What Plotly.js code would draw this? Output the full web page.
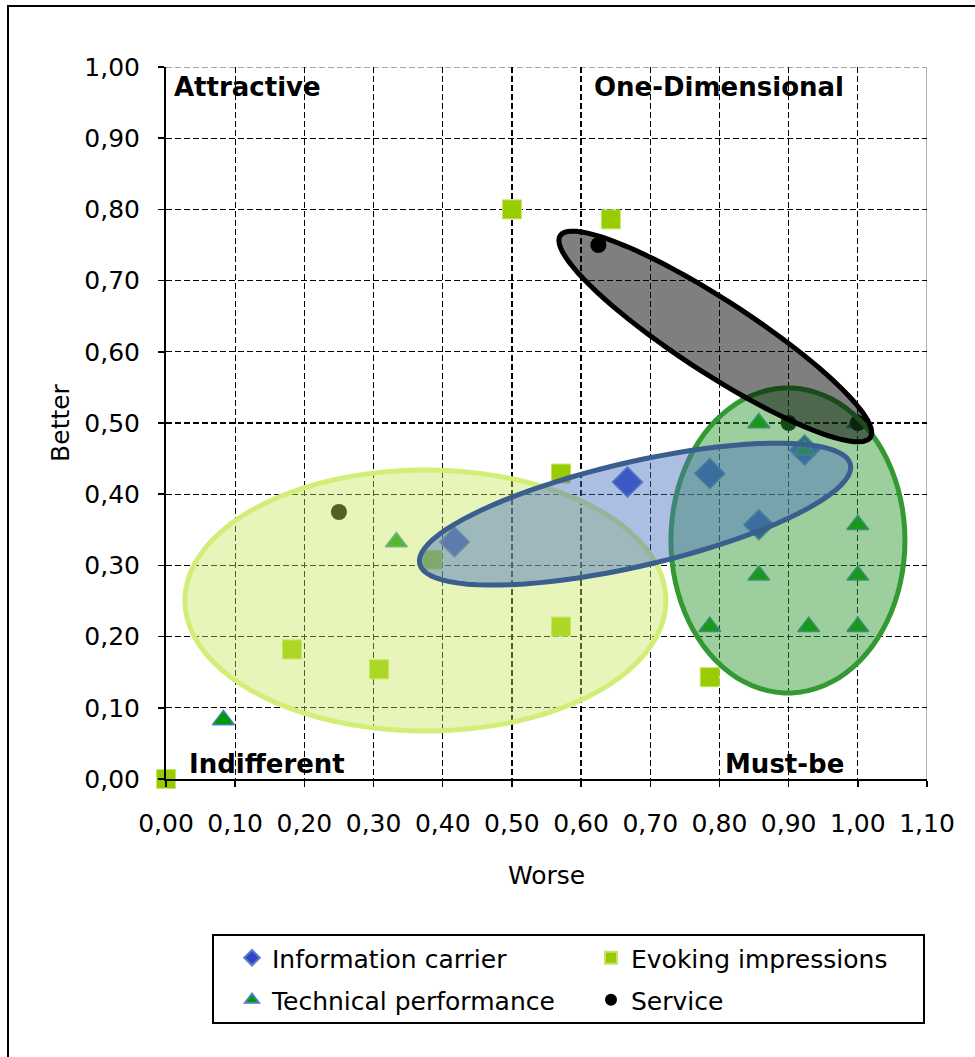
<!DOCTYPE html>
<html>
<head>
<meta charset="utf-8">
<script src="https://cdn.plot.ly/plotly-3.0.1.min.js"></script>
<style>
  html, body { margin:0; padding:0; background:#fff; overflow:hidden; }
  #wrap { position:relative; width:975px; height:1057px; overflow:hidden; }
  #frame { position:absolute; left:7px; top:5px; width:1200px; height:1200px; border:2px solid #000; box-sizing:border-box; }
  #chart { position:absolute; left:0; top:0; width:975px; height:1057px; }
</style>
</head>
<body>
<div id="wrap">
  <div id="frame"></div>
  <div id="chart"></div>
</div>
<script>
// ---- data (Worse = x, Better = y) ----
const infoWorse   = [0.417, 0.667, 0.786, 0.857, 0.923];
const infoBetter  = [0.333, 0.417, 0.429, 0.357, 0.462];

const evokeWorse  = [0.000, 0.182, 0.308, 0.385, 0.500, 0.643, 0.571, 0.571, 0.786];
const evokeBetter = [0.000, 0.182, 0.154, 0.308, 0.800, 0.786, 0.429, 0.214, 0.143];

const techWorse   = [0.083, 0.333, 0.857, 0.923, 1.000, 1.000, 0.857, 1.000, 0.786, 0.929, 1.000];
const techBetter  = [0.083, 0.333, 0.500, 0.462, 0.500, 0.357, 0.286, 0.286, 0.214, 0.214, 0.214];

const servWorse   = [0.250, 0.625, 0.900, 1.000];
const servBetter  = [0.375, 0.750, 0.500, 0.500];

const seriesNames = ['Information carrier', 'Evoking impressions', 'Technical performance', 'Service'];
const quadrantLabels = ['Attractive', 'One-Dimensional', 'Indifferent', 'Must-be'];
const xTitle = 'Worse';
const yTitle = 'Better';

// ---- layout geometry ----
const W = 975, H = 1057;
const M = { l: 166, r: 48, t: 67, b: 278, autoexpand: false };
const plotW = W - M.l - M.r, plotH = H - M.t - M.b;
const xMax = 1.1, yMax = 1.0;
const sx = plotW / xMax, sy = plotH / yMax;
const pxToPaperX = px => (px - M.l) / plotW;
const pxToPaperY = py => (M.t + plotH - py) / plotH;

// cluster ellipses: centre in data units, semi-axes in px, rotation in degrees
const clusters = [
  { cx: 0.375, cy: 0.2507, a: 240.5, b: 130.5, ang: 0,   fill: 'rgba(200,232,90,0.42)', line: '#d3ee78', lw: 5 },
  { cx: 0.899, cy: 0.335,  a: 117,   b: 152.5, ang: 0,   fill: 'rgba(51,153,51,0.48)',  line: '#339933', lw: 5 },
  { cx: 0.678, cy: 0.372,  a: 221,   b: 52,    ang: 13,  fill: 'rgba(70,110,190,0.45)', line: '#3a5e8e', lw: 5 },
  { cx: 0.794, cy: 0.6215, a: 185,   b: 36.5,  ang: -33, fill: 'rgba(0,0,0,0.5)',       line: '#000000', lw: 5 }
];

function ellipsePath(e) {
  const th = e.ang * Math.PI / 180;
  const n = 90;
  let p = '';
  for (let i = 0; i < n; i++) {
    const t = 2 * Math.PI * i / n;
    const dx = e.a * Math.cos(t) * Math.cos(th) - e.b * Math.sin(t) * Math.sin(th);
    const dy = e.a * Math.cos(t) * Math.sin(th) + e.b * Math.sin(t) * Math.cos(th);
    const x = e.cx + dx / sx, y = e.cy + dy / sy;
    p += (i === 0 ? 'M' : 'L') + x.toFixed(5) + ',' + y.toFixed(5);
  }
  return p + 'Z';
}

const shapes = clusters.map(e => ({
  type: 'path', xref: 'x', yref: 'y', path: ellipsePath(e),
  fillcolor: e.fill, line: { color: e.line, width: e.lw }, layer: 'above'
}));
// plot-area edges (top dashed grey, right solid grey)
shapes.push({ type: 'line', xref: 'x', yref: 'y', x0: 0, x1: xMax, y0: yMax, y1: yMax,
  line: { color: '#8a8a8a', width: 1.5, dash: '6px,3px' }, layer: 'below' });
shapes.push({ type: 'line', xref: 'x', yref: 'y', x0: xMax, x1: xMax, y0: 0, y1: yMax,
  line: { color: '#9a9a9a', width: 1.5 }, layer: 'below' });
// legend box
shapes.push({ type: 'rect', xref: 'paper', yref: 'paper',
  x0: pxToPaperX(213), x1: pxToPaperX(924), y0: pxToPaperY(1023), y1: pxToPaperY(935),
  line: { color: '#000', width: 2 }, fillcolor: 'rgba(0,0,0,0)', layer: 'above' });

const FONT = 'DejaVu Sans, Verdana, sans-serif';

const traces = [
  { x: infoWorse, y: infoBetter, name: seriesNames[0], legend: 'legend', type: 'scatter', mode: 'markers', cliponaxis: false,
    marker: { symbol: 'diamond', size: 23, color: '#3344cc', line: { color: '#5b80c8', width: 1.5 } } },
  { x: evokeWorse, y: evokeBetter, name: seriesNames[1], legend: 'legend', type: 'scatter', mode: 'markers', cliponaxis: false,
    marker: { symbol: 'square', size: 19, color: '#99cc00', line: { color: '#c4e46a', width: 1 } } },
  { x: techWorse, y: techBetter, name: seriesNames[2], legend: 'legend2', type: 'scatter', mode: 'markers', cliponaxis: false,
    marker: { symbol: 'triangle-up', size: 19, color: '#009900', line: { color: '#4a80c0', width: 1.5 } } },
  { x: servWorse, y: servBetter, name: seriesNames[3], legend: 'legend2', type: 'scatter', mode: 'markers', cliponaxis: false,
    marker: { symbol: 'circle', size: 16, color: '#000000', line: { width: 0 } } }
];

const annFont = { family: FONT, size: 26, color: '#000' };
const annotations = [
  { text: '<b>' + quadrantLabels[0] + '</b>', x: 0.009, y: 0.972, xanchor: 'left',  yanchor: 'middle' },
  { text: '<b>' + quadrantLabels[1] + '</b>', x: 0.983, y: 0.972, xanchor: 'right', yanchor: 'middle' },
  { text: '<b>' + quadrantLabels[2] + '</b>', x: 0.030, y: 0.021, xanchor: 'left',  yanchor: 'middle' },
  { text: '<b>' + quadrantLabels[3] + '</b>', x: 0.983, y: 0.021, xanchor: 'right', yanchor: 'middle' }
].map(a => Object.assign({ xref: 'x', yref: 'y', showarrow: false, font: annFont }, a));

const axisCommon = {
  showgrid: true, gridcolor: '#000', gridwidth: 1.3, griddash: '6px,3px',
  showline: true, linecolor: '#000', linewidth: 2, zeroline: false, mirror: false,
  ticks: 'outside', ticklen: 6, tickwidth: 1.5, tickcolor: '#000',
  tickformat: '.2f', tickfont: { family: FONT, size: 25, color: '#000' }
};

const legendCommon = {
  orientation: 'h', xanchor: 'left', yanchor: 'middle',
  borderwidth: 0, bgcolor: 'rgba(0,0,0,0)',
  font: { family: FONT, size: 25, color: '#000' },
  entrywidth: 314, entrywidthmode: 'pixels', itemsizing: 'constant', traceorder: 'normal'
};

const layout = {
  width: W, height: H, margin: M,
  paper_bgcolor: 'rgba(0,0,0,0)', plot_bgcolor: 'rgba(0,0,0,0)',
  separators: ', ',
  showlegend: true,
  font: { family: FONT, color: '#000' },
  xaxis: Object.assign({}, axisCommon, {
    range: [0, xMax], dtick: 0.1, tick0: 0, ticklabelstandoff: 15,
    title: { text: xTitle, font: { family: FONT, size: 25, color: '#000' }, standoff: 29 }
  }),
  yaxis: Object.assign({}, axisCommon, {
    range: [0, yMax], dtick: 0.1, tick0: 0, ticklabelstandoff: 13,
    title: { text: yTitle, font: { family: FONT, size: 25, color: '#000' }, standoff: 8 }
  }),
  legend: Object.assign({}, legendCommon, { x: pxToPaperX(232), y: pxToPaperY(958) }),
  legend2: Object.assign({}, legendCommon, { x: pxToPaperX(232), y: pxToPaperY(1000) }),
  shapes: shapes,
  annotations: annotations
};

Plotly.newPlot('chart', traces, layout, { staticPlot: true, displayModeBar: false });
</script>
</body>
</html>
